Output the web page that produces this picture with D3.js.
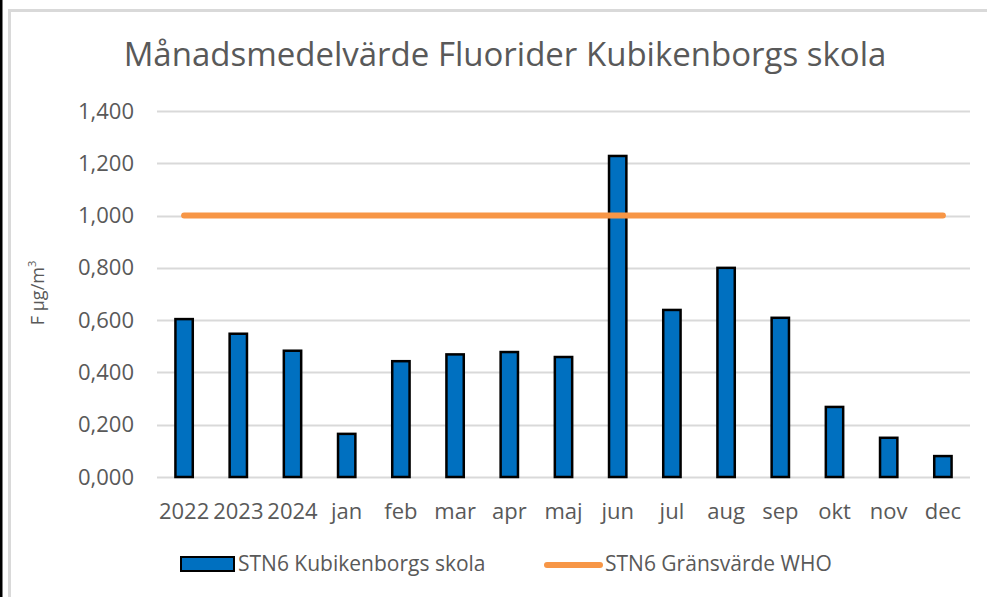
<!DOCTYPE html>
<html>
<head>
<meta charset="utf-8">
<script src="https://cdn.jsdelivr.net/npm/d3@7"></script>
<style>
  body { margin: 0; background: #fff; }
  svg { display: block; }
  text { font-family: "Open Sans", Lato, sans-serif; fill: #595959; }
</style>
</head>
<body>
<script>
// chart data
var categories = ["2022", "2023", "2024", "jan", "feb", "mar", "apr", "maj", "jun", "jul", "aug", "sep", "okt", "nov", "dec"];
var stationValues = [0.604, 0.548, 0.483, 0.165, 0.443, 0.469, 0.478, 0.459, 1.228, 0.639, 0.800, 0.609, 0.268, 0.150, 0.080];
var limitValues = [1, 1, 1, 1, 1, 1, 1, 1, 1, 1, 1, 1, 1, 1, 1];
var yTicks = [0, 0.2, 0.4, 0.6, 0.8, 1.0, 1.2, 1.4];
var seriesNames = ["STN6 Kubikenborgs skola", "STN6 Gränsvärde WHO"];

function draw_chart() {
    var width = 987, height = 597;
    var svg = d3.select("body").append("svg")
        .attr("width", width)
        .attr("height", height);

    // frame
    svg.append("rect").attr("x", 0).attr("y", 0).attr("width", 2.5).attr("height", height).attr("fill", "#000");
    svg.append("path")
        .attr("d", "M9.5," + height + "V10.5H" + width)
        .attr("fill", "none").attr("stroke", "#d9d9d9").attr("stroke-width", 3);

    var left = 157, right = 970, top = 111, bottom = 477;

    var x = d3.scaleBand().domain(categories).range([left, right]).paddingInner(0.68).paddingOuter(0.34);
    var y = d3.scaleLinear().domain([0, 1.4]).range([bottom, top]);

    // title
    svg.append("text")
        .attr("x", 505).attr("y", 66)
        .attr("text-anchor", "middle")
        .style("font-size", "33px")
        .text("Månadsmedelvärde Fluorider Kubikenborgs skola");

    // grid
    svg.append("g").selectAll("line").data(yTicks).enter().append("line")
        .attr("x1", left).attr("x2", right)
        .attr("y1", function(d) { return Math.round(y(d)) + 0.5; })
        .attr("y2", function(d) { return Math.round(y(d)) + 0.5; })
        .attr("stroke", "#d9d9d9").attr("stroke-width", 2);

    // y axis labels (1,400 ... 0,000 as in the source)
    var yAxis = d3.axisLeft(y).tickValues(yTicks).tickSize(0).tickPadding(0)
        .tickFormat(function(d) { return d3.format(".3f")(d).replace(".", ","); });
    var gy = svg.append("g").attr("transform", "translate(134,0)").call(yAxis);
    gy.select(".domain").remove();
    gy.selectAll("text").style("font-size", "22px").attr("fill", "#595959")
        .style("font-family", "'Open Sans', Lato, sans-serif");

    // y title
    svg.append("text")
        .attr("transform", "translate(44,293) rotate(-90)")
        .attr("text-anchor", "middle")
        .style("font-size", "18px")
        .html("F µg/m<tspan dy='-8' style='font-size:11px'>3</tspan>");

    // x axis labels
    var xAxis = d3.axisBottom(x).tickSize(0).tickPadding(0);
    var gx = svg.append("g").attr("transform", "translate(0,519)").call(xAxis);
    gx.select(".domain").remove();
    gx.selectAll("text").style("font-size", "22px").attr("fill", "#595959")
        .style("font-family", "'Open Sans', Lato, sans-serif").attr("dy", null).attr("y", 0);

    // bars
    svg.append("g").selectAll("rect").data(stationValues).enter().append("rect")
        .attr("x", function(d, i) { return x(categories[i]); })
        .attr("width", x.bandwidth())
        .attr("y", function(d) { return y(d); })
        .attr("height", function(d) { return y(0) - y(d); })
        .attr("fill", "#0070c0")
        .attr("stroke", "#000").attr("stroke-width", 2.5);

    // limit line
    var line = d3.line()
        .x(function(d, i) { return x(categories[i]) + x.bandwidth() / 2; })
        .y(function(d) { return y(d); });
    svg.append("path").datum(limitValues)
        .attr("d", line)
        .attr("fill", "none")
        .attr("stroke", "#f79646")
        .attr("stroke-width", 6)
        .attr("stroke-linecap", "round");

    // legend
    var lg = svg.append("g");
    lg.append("rect").attr("x", 181).attr("y", 557).attr("width", 53).attr("height", 14)
        .attr("fill", "#0070c0").attr("stroke", "#000").attr("stroke-width", 2);
    lg.append("text").attr("x", 238).attr("y", 571).style("font-size", "21px").text(seriesNames[0]);
    lg.append("line").attr("x1", 547).attr("x2", 600).attr("y1", 565).attr("y2", 565)
        .attr("stroke", "#f79646").attr("stroke-width", 6).attr("stroke-linecap", "round");
    lg.append("text").attr("x", 605).attr("y", 571).style("font-size", "21px").text(seriesNames[1]);
}

draw_chart();
</script>
</body>
</html>
